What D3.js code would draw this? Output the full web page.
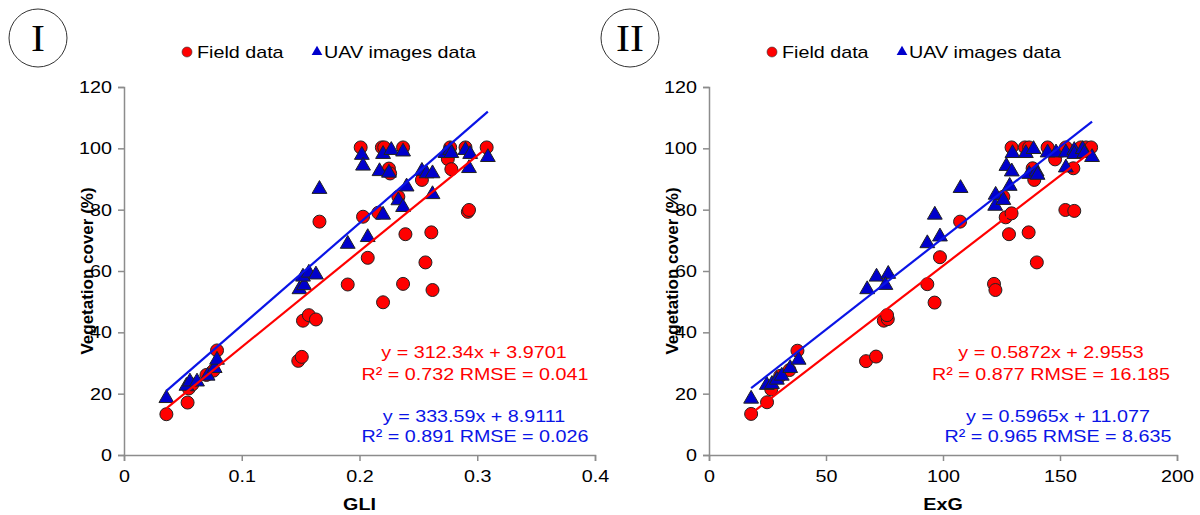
<!DOCTYPE html>
<html><head><meta charset="utf-8">
<script src="https://cdn.jsdelivr.net/npm/d3@7"></script>
<style>body{margin:0;background:#fff}svg{display:block}</style>
</head><body>
<svg id="chart" width="1200" height="515"></svg>
<script>
// ---- data ----
const yTicks = [0, 20, 40, 60, 80, 100, 120];
const gliTicks = [0, 0.1, 0.2, 0.3, 0.4];
const exgTicks = [0, 50, 100, 150, 200];

const gliField = [[0.036,13.3],[0.054,17.1],[0.055,21.7],[0.058,23.0],[0.070,26.1],[0.076,27.5],[0.079,34.1],
 [0.148,30.7],[0.151,32.0],[0.152,43.8],[0.157,45.6],[0.163,44.2],[0.166,76.1],[0.190,55.6],[0.201,100.3],
 [0.203,77.7],[0.207,64.3],[0.216,79.0],[0.219,100.3],[0.220,49.8],[0.221,100.3],[0.225,93.4],[0.226,91.8],
 [0.233,84.2],[0.237,100.3],[0.237,55.8],[0.239,72.0],[0.253,89.7],[0.256,62.8],[0.261,72.6],[0.262,53.8],
 [0.275,96.5],[0.277,100.3],[0.278,93.2],[0.290,100.3],[0.292,79.3],[0.293,79.9],[0.308,100.3]];
const gliUav = [[0.036,18.5],[0.053,22.5],[0.056,23.9],[0.062,23.9],[0.071,25.8],[0.077,28.3],[0.079,31.0],
 [0.149,54.0],[0.153,55.3],[0.152,58.1],[0.157,59.4],[0.163,58.8],[0.166,86.7],[0.190,68.8],[0.202,97.8],
 [0.203,94.3],[0.207,71.0],[0.217,92.5],[0.220,78.3],[0.220,98.1],[0.225,92.0],[0.227,99.4],[0.233,83.0],
 [0.237,80.8],[0.237,98.9],[0.240,87.5],[0.253,92.6],[0.257,91.8],[0.262,91.8],[0.262,85.0],[0.273,98.4],
 [0.277,99.4],[0.278,98.4],[0.290,99.4],[0.293,93.5],[0.294,98.1],[0.309,97.1]];

const exgField = [[18.0,13.4],[24.8,17.2],[26.6,21.4],[30.4,25.8],[34.4,27.7],[37.8,34.0],[67.1,30.6],[71.4,32.1],
 [74.7,43.8],[76.4,44.3],[76.1,45.6],[93.3,55.7],[96.4,49.7],[98.7,64.5],[107.3,76.1],[121.8,55.8],[122.4,53.8],
 [125.8,84.2],[126.8,77.5],[129.3,78.8],[128.2,72.0],[136.6,72.6],[140.1,62.8],[138.3,93.5],[139.0,89.7],
 [147.9,96.4],[152.3,79.9],[156.1,79.6],[155.7,93.5],[129.3,100.3],[135.0,100.3],[136.8,100.3],[144.7,100.3],
 [152.5,100.3],[158.9,100.3],[161.1,100.3],[163.3,100.3]];
const exgUav = [[18.0,18.3],[24.7,22.8],[26.9,23.1],[29.0,24.5],[31.1,25.8],[34.7,28.3],[38.3,31.0],[67.6,54.0],
 [71.6,58.1],[76.6,59.0],[75.4,55.4],[93.3,69.0],[98.7,71.2],[96.5,78.3],[107.5,87.0],[122.3,81.2],[122.5,84.8],
 [125.8,83.1],[128.5,87.7],[127.1,94.2],[129.4,92.4],[129.7,98.4],[135.4,98.4],[138.7,99.7],[136.8,91.6],
 [140.0,92.4],[140.4,91.3],[144.7,98.6],[148.3,98.6],[152.5,98.6],[152.5,93.7],[156.1,99.4],[156.1,98.1],
 [159.7,99.7],[160.4,98.4],[163.7,97.1]];

const gliFit = {field:[312.34, 3.9701], uav:[333.59, 8.9111]};
const exgFit = {field:[0.5872, 2.9553], uav:[0.5965, 11.077]};
const gliText = ["y = 312.34x + 3.9701","R² = 0.732 RMSE = 0.041","y = 333.59x + 8.9111","R² = 0.891 RMSE = 0.026"];
const exgText = ["y = 0.5872x + 2.9553","R² = 0.877 RMSE = 16.185","y = 0.5965x + 11.077","R² = 0.965 RMSE = 8.635"];
const legendLabels = ["Field data", "UAV images data"];

// ---- drawing ----
const svg = d3.select("#chart");
const RED = "#ff0000", BLUE = "#0000cc", LBLUE = "#0a14e6", AXIS = "#8c8c8c";
const FONT = "'Liberation Sans', Arial, sans-serif";
const SX = 1.16, FS = 17;

function stext(parent, x, y, str, anchor) {
  return parent.append("text").attr("transform", `translate(${x},${y}) scale(${SX},1)`)
    .attr("text-anchor", anchor || "start").attr("font-family", FONT).attr("font-size", FS).text(str);
}

function panel(o) {
  const g = svg.append("g");
  const x = d3.scaleLinear().domain([o.xTicks[0], o.xTicks[o.xTicks.length-1]]).range([o.x0, o.x1]);
  const y = d3.scaleLinear().domain([0, 120]).range([455, 87]);

  // roman label
  g.append("circle").attr("cx", o.cx).attr("cy", 38).attr("r", 29)
    .attr("fill", "none").attr("stroke", "#333").attr("stroke-width", 1);
  g.append("text").attr("transform", `translate(${o.cx},51) scale(1.1,1)`).attr("text-anchor", "middle")
    .attr("font-family", "'Liberation Serif', 'Times New Roman', serif").attr("font-size", 38)
    .attr("fill", "#000").text(o.roman);

  // legend
  const lg = g.append("g").attr("fill", "#000");
  lg.append("circle").attr("cx", o.legX).attr("cy", 52).attr("r", 5).attr("fill", RED).attr("stroke", "#333").attr("stroke-width", 0.6);
  stext(lg, o.legX + 10, 58, legendLabels[0]);
  lg.append("path").attr("d", d3.symbol(d3.symbolTriangle, 50)()).attr("transform", `translate(${o.legX+130},52)`).attr("fill", BLUE);
  stext(lg, o.legX + 137, 58, legendLabels[1]);

  // axes
  const ya = d3.axisLeft(y).tickValues(yTicks).tickSize(6).tickPadding(6);
  const yg = g.append("g").attr("transform", `translate(${o.x0},0)`).call(ya);
  const xa = d3.axisBottom(x).tickValues(o.xTicks).tickSize(6).tickPadding(9).tickFormat(o.fmt);
  const xg = g.append("g").attr("transform", `translate(0,455)`).call(xa);
  [yg, xg].forEach(a => {
    a.select(".domain").attr("stroke", AXIS).attr("stroke-width", 1.5);
    a.selectAll(".tick line").attr("stroke", AXIS).attr("stroke-width", 1.5);
    a.selectAll("text").attr("font-family", FONT).attr("font-size", FS).attr("fill", "#000");
  });
  yg.selectAll(".tick text").attr("x", -12 / SX).attr("transform", `scale(${SX},1)`);
  xg.selectAll(".tick text").attr("transform", `scale(${SX},1)`);

  g.append("text").attr("transform", `translate(${o.x0-31},271) rotate(-90)`).attr("text-anchor", "middle")
    .attr("font-family", FONT).attr("font-size", FS).attr("font-weight", "bold").text("Vegetation cover (%)");
  stext(g, (o.x0 + o.x1) / 2, 510, o.xTitle, "middle").attr("font-weight", "bold");

  // points
  g.append("g").selectAll("circle").data(o.field).join("circle")
    .attr("cx", d => x(d[0])).attr("cy", d => y(d[1])).attr("r", 6.5)
    .attr("fill", RED).attr("stroke", "#222").attr("stroke-width", 1);
  g.append("g").selectAll("path").data(o.uav).join("path")
    .attr("d", d3.symbol(d3.symbolTriangle, 95)())
    .attr("transform", d => `translate(${x(d[0])},${y(d[1])})`)
    .attr("fill", BLUE).attr("stroke", "#222").attr("stroke-width", 1);

  // trend lines
  const line = (data, fit, col) => {
    const ext = d3.extent(data, d => d[0]);
    g.append("line").attr("x1", x(ext[0])).attr("y1", y(fit[0]*ext[0]+fit[1]))
      .attr("x2", x(ext[1])).attr("y2", y(fit[0]*ext[1]+fit[1]))
      .attr("stroke", col).attr("stroke-width", 2.2);
  };
  line(o.field, o.fit.field, RED);
  line(o.uav, o.fit.uav, LBLUE);

  // equations
  const eq = g.append("g");
  const ys = [358, 380, 422, 442];
  o.eqText.forEach((t, i) => {
    stext(eq, o.eqX[i], ys[i], t, "middle").attr("fill", i < 2 ? RED : LBLUE);
  });
}

panel({x0:124, x1:595, xTicks:gliTicks, fmt:d3.format(""), field:gliField, uav:gliUav, fit:gliFit,
  eqText:gliText, eqX:[474, 475, 474, 475], roman:"I", cx:38, legX:187, xTitle:"GLI"});
panel({x0:709, x1:1177, xTicks:exgTicks, fmt:d3.format("d"), field:exgField, uav:exgUav, fit:exgFit,
  eqText:exgText, eqX:[1051, 1051, 1058, 1058], roman:"II", cx:630, legX:772, xTitle:"ExG"});
</script>
</body></html>
